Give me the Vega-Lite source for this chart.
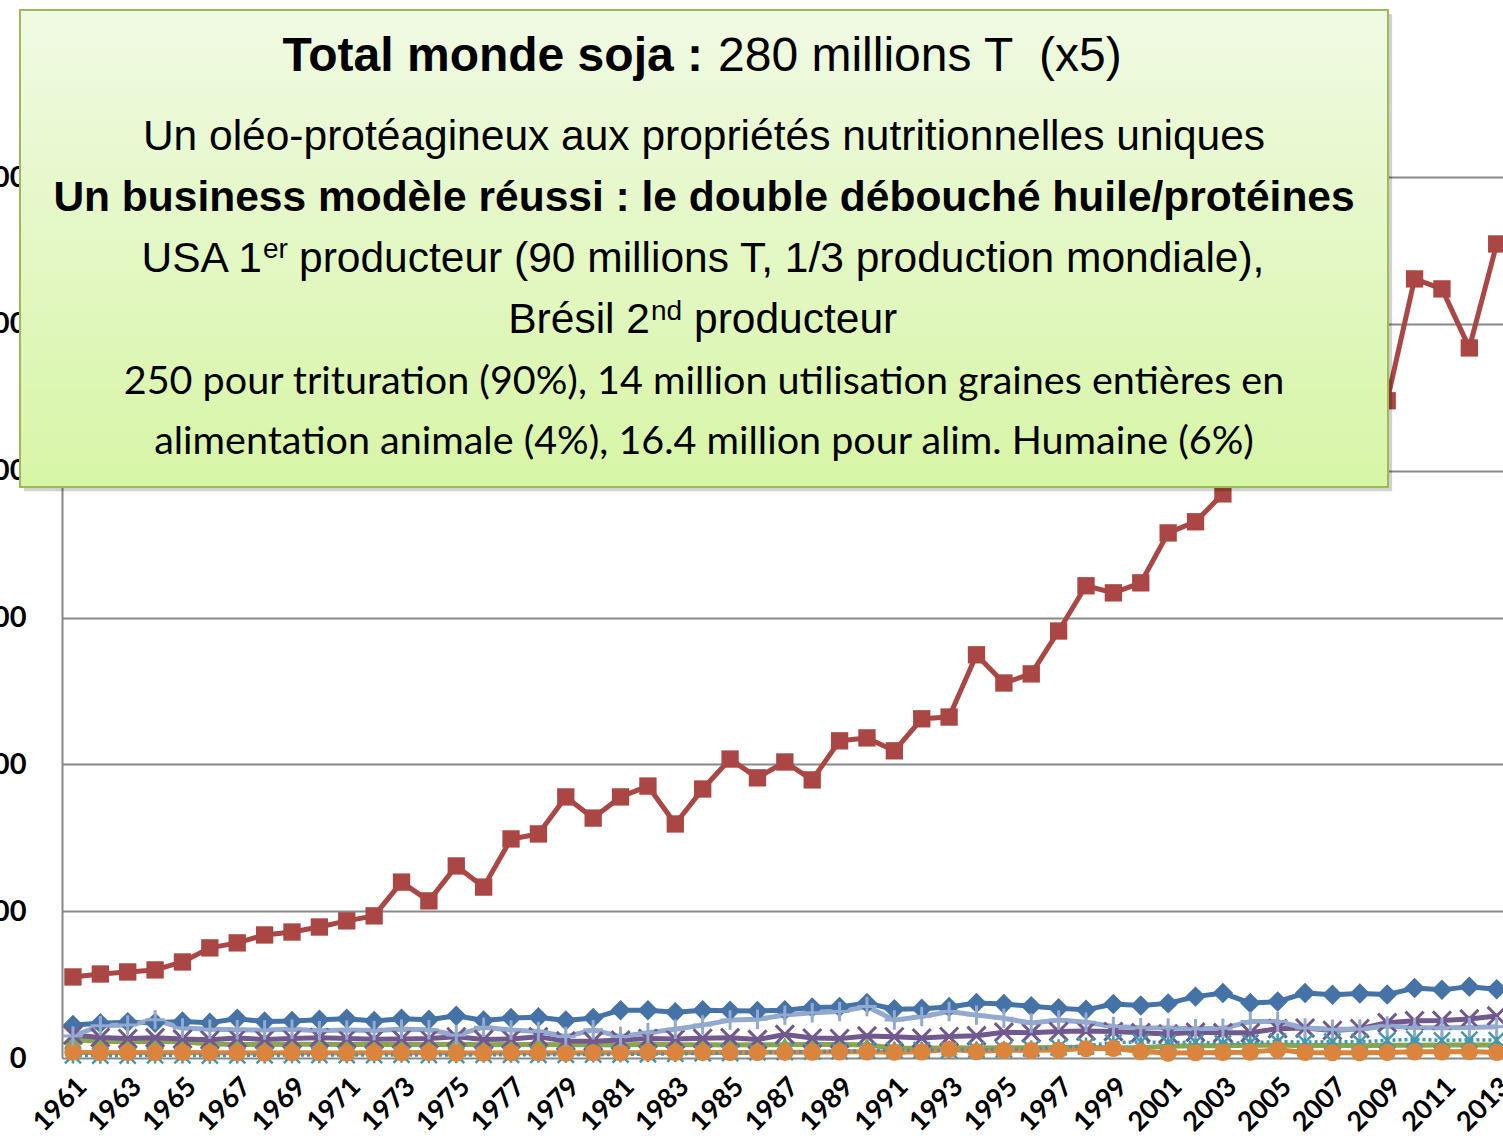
{
  "$schema": "https://vega.github.io/schema/vega-lite/v6.json",
  "autosize": {"type": "none"},
  "width": 1441,
  "height": 881,
  "padding": {"left": 62, "top": 177, "right": 0, "bottom": 78},
  "background": "white",
  "config": {"view": {"stroke": null}},
  "datasets": {
    "prod": [
      {"year": 1961, "Haricots": 11.2, "Soja": 27.6, "Feves": 6.1, "PoisChiches": 7.8, "Lentilles": 0.9, "Lupins": 2.0, "PoisSecs": 7.5},
      {"year": 1962, "Haricots": 11.8, "Soja": 28.6, "Feves": 5.7, "PoisChiches": 7.0, "Lentilles": 0.8, "Lupins": 1.8, "PoisSecs": 11.0},
      {"year": 1963, "Haricots": 12.2, "Soja": 29.3, "Feves": 5.5, "PoisChiches": 6.6, "Lentilles": 0.8, "Lupins": 1.9, "PoisSecs": 11.2},
      {"year": 1964, "Haricots": 12.0, "Soja": 30.0, "Feves": 5.6, "PoisChiches": 6.9, "Lentilles": 0.9, "Lupins": 1.8, "PoisSecs": 13.0},
      {"year": 1965, "Haricots": 12.4, "Soja": 32.7, "Feves": 5.5, "PoisChiches": 6.5, "Lentilles": 0.9, "Lupins": 1.9, "PoisSecs": 10.2},
      {"year": 1966, "Haricots": 12.0, "Soja": 37.5, "Feves": 4.8, "PoisChiches": 6.2, "Lentilles": 0.8, "Lupins": 1.8, "PoisSecs": 9.8},
      {"year": 1967, "Haricots": 13.4, "Soja": 39.2, "Feves": 4.6, "PoisChiches": 6.8, "Lentilles": 0.9, "Lupins": 1.8, "PoisSecs": 9.6},
      {"year": 1968, "Haricots": 12.4, "Soja": 41.9, "Feves": 4.6, "PoisChiches": 6.3, "Lentilles": 0.9, "Lupins": 1.7, "PoisSecs": 9.5},
      {"year": 1969, "Haricots": 12.6, "Soja": 42.9, "Feves": 4.7, "PoisChiches": 6.6, "Lentilles": 1.0, "Lupins": 1.8, "PoisSecs": 9.8},
      {"year": 1970, "Haricots": 13.0, "Soja": 44.6, "Feves": 4.7, "PoisChiches": 6.9, "Lentilles": 1.0, "Lupins": 1.8, "PoisSecs": 9.3},
      {"year": 1971, "Haricots": 13.4, "Soja": 46.7, "Feves": 4.6, "PoisChiches": 6.6, "Lentilles": 1.0, "Lupins": 1.7, "PoisSecs": 9.5},
      {"year": 1972, "Haricots": 12.6, "Soja": 48.4, "Feves": 4.6, "PoisChiches": 6.4, "Lentilles": 1.0, "Lupins": 1.8, "PoisSecs": 9.4},
      {"year": 1973, "Haricots": 13.4, "Soja": 59.9, "Feves": 4.6, "PoisChiches": 6.5, "Lentilles": 1.1, "Lupins": 1.8, "PoisSecs": 9.8},
      {"year": 1974, "Haricots": 13.0, "Soja": 53.5, "Feves": 4.6, "PoisChiches": 6.6, "Lentilles": 1.0, "Lupins": 1.9, "PoisSecs": 9.6},
      {"year": 1975, "Haricots": 14.4, "Soja": 65.4, "Feves": 4.7, "PoisChiches": 7.2, "Lentilles": 1.0, "Lupins": 1.7, "PoisSecs": 7.8},
      {"year": 1976, "Haricots": 12.8, "Soja": 58.2, "Feves": 4.5, "PoisChiches": 6.3, "Lentilles": 1.1, "Lupins": 1.7, "PoisSecs": 10.5},
      {"year": 1977, "Haricots": 13.6, "Soja": 74.6, "Feves": 4.6, "PoisChiches": 6.5, "Lentilles": 1.1, "Lupins": 1.8, "PoisSecs": 9.5},
      {"year": 1978, "Haricots": 13.9, "Soja": 76.3, "Feves": 4.6, "PoisChiches": 7.2, "Lentilles": 1.1, "Lupins": 1.8, "PoisSecs": 9.0},
      {"year": 1979, "Haricots": 12.8, "Soja": 88.9, "Feves": 4.5, "PoisChiches": 5.8, "Lentilles": 1.1, "Lupins": 1.7, "PoisSecs": 7.3},
      {"year": 1980, "Haricots": 13.6, "Soja": 81.7, "Feves": 4.5, "PoisChiches": 5.7, "Lentilles": 1.2, "Lupins": 1.8, "PoisSecs": 9.6},
      {"year": 1981, "Haricots": 16.3, "Soja": 88.9, "Feves": 4.4, "PoisChiches": 6.1, "Lentilles": 1.2, "Lupins": 1.8, "PoisSecs": 7.3},
      {"year": 1982, "Haricots": 16.3, "Soja": 92.6, "Feves": 4.7, "PoisChiches": 6.6, "Lentilles": 1.3, "Lupins": 1.9, "PoisSecs": 8.6},
      {"year": 1983, "Haricots": 15.6, "Soja": 79.7, "Feves": 4.5, "PoisChiches": 6.5, "Lentilles": 1.4, "Lupins": 1.9, "PoisSecs": 9.8},
      {"year": 1984, "Haricots": 16.3, "Soja": 91.6, "Feves": 4.5, "PoisChiches": 6.7, "Lentilles": 1.6, "Lupins": 1.9, "PoisSecs": 11.2},
      {"year": 1985, "Haricots": 16.1, "Soja": 101.8, "Feves": 4.4, "PoisChiches": 6.9, "Lentilles": 1.7, "Lupins": 1.9, "PoisSecs": 12.9},
      {"year": 1986, "Haricots": 16.0, "Soja": 95.4, "Feves": 4.5, "PoisChiches": 6.3, "Lentilles": 1.9, "Lupins": 1.9, "PoisSecs": 13.2},
      {"year": 1987, "Haricots": 16.3, "Soja": 100.8, "Feves": 4.5, "PoisChiches": 8.0, "Lentilles": 2.0, "Lupins": 2.0, "PoisSecs": 14.6},
      {"year": 1988, "Haricots": 17.2, "Soja": 94.7, "Feves": 4.6, "PoisChiches": 6.8, "Lentilles": 2.2, "Lupins": 2.0, "PoisSecs": 15.4},
      {"year": 1989, "Haricots": 17.4, "Soja": 108.0, "Feves": 4.6, "PoisChiches": 6.6, "Lentilles": 2.3, "Lupins": 2.1, "PoisSecs": 15.8},
      {"year": 1990, "Haricots": 18.7, "Soja": 109.0, "Feves": 4.4, "PoisChiches": 7.5, "Lentilles": 2.5, "Lupins": 2.1, "PoisSecs": 17.5},
      {"year": 1991, "Haricots": 16.6, "Soja": 104.6, "Feves": 3.4, "PoisChiches": 7.2, "Lentilles": 2.6, "Lupins": 2.0, "PoisSecs": 12.9},
      {"year": 1992, "Haricots": 16.8, "Soja": 115.5, "Feves": 3.3, "PoisChiches": 6.8, "Lentilles": 2.7, "Lupins": 2.1, "PoisSecs": 14.1},
      {"year": 1993, "Haricots": 17.4, "Soja": 116.1, "Feves": 3.5, "PoisChiches": 7.3, "Lentilles": 2.6, "Lupins": 3.0, "PoisSecs": 15.8},
      {"year": 1994, "Haricots": 18.7, "Soja": 137.3, "Feves": 3.4, "PoisChiches": 7.6, "Lentilles": 2.8, "Lupins": 2.2, "PoisSecs": 14.6},
      {"year": 1995, "Haricots": 18.4, "Soja": 127.7, "Feves": 3.5, "PoisChiches": 8.8, "Lentilles": 2.9, "Lupins": 2.6, "PoisSecs": 13.5},
      {"year": 1996, "Haricots": 17.6, "Soja": 130.8, "Feves": 3.5, "PoisChiches": 8.6, "Lentilles": 3.2, "Lupins": 2.6, "PoisSecs": 11.9},
      {"year": 1997, "Haricots": 16.9, "Soja": 145.4, "Feves": 3.6, "PoisChiches": 9.0, "Lentilles": 3.6, "Lupins": 2.7, "PoisSecs": 12.9},
      {"year": 1998, "Haricots": 16.4, "Soja": 160.8, "Feves": 3.6, "PoisChiches": 9.2, "Lentilles": 4.2, "Lupins": 3.2, "PoisSecs": 12.2},
      {"year": 1999, "Haricots": 18.4, "Soja": 158.4, "Feves": 3.5, "PoisChiches": 9.0, "Lentilles": 5.2, "Lupins": 3.3, "PoisSecs": 10.7},
      {"year": 2000, "Haricots": 17.9, "Soja": 161.8, "Feves": 3.5, "PoisChiches": 8.6, "Lentilles": 5.5, "Lupins": 2.2, "PoisSecs": 10.3},
      {"year": 2001, "Haricots": 18.6, "Soja": 178.8, "Feves": 4.0, "PoisChiches": 8.2, "Lentilles": 5.2, "Lupins": 1.7, "PoisSecs": 10.2},
      {"year": 2002, "Haricots": 20.9, "Soja": 182.6, "Feves": 4.2, "PoisChiches": 8.8, "Lentilles": 5.4, "Lupins": 1.8, "PoisSecs": 10.0},
      {"year": 2003, "Haricots": 22.1, "Soja": 192.1, "Feves": 4.2, "PoisChiches": 8.6, "Lentilles": 5.0, "Lupins": 1.9, "PoisSecs": 10.1},
      {"year": 2004, "Haricots": 18.7, "Soja": 205.5, "Feves": 4.3, "PoisChiches": 8.6, "Lentilles": 5.2, "Lupins": 2.0, "PoisSecs": 12.4},
      {"year": 2005, "Haricots": 19.2, "Soja": 214.5, "Feves": 4.4, "PoisChiches": 10.0, "Lentilles": 5.6, "Lupins": 2.8, "PoisSecs": 12.4},
      {"year": 2006, "Haricots": 22.1, "Soja": 221.8, "Feves": 4.2, "PoisChiches": 10.2, "Lentilles": 5.4, "Lupins": 1.9, "PoisSecs": 10.2},
      {"year": 2007, "Haricots": 21.5, "Soja": 219.5, "Feves": 4.3, "PoisChiches": 9.4, "Lentilles": 5.6, "Lupins": 1.8, "PoisSecs": 9.8},
      {"year": 2008, "Haricots": 22.0, "Soja": 230.9, "Feves": 4.2, "PoisChiches": 10.0, "Lentilles": 5.5, "Lupins": 1.8, "PoisSecs": 9.8},
      {"year": 2009, "Haricots": 21.6, "Soja": 223.8, "Feves": 4.3, "PoisChiches": 12.0, "Lentilles": 6.0, "Lupins": 1.9, "PoisSecs": 10.9},
      {"year": 2010, "Haricots": 23.8, "Soja": 265.3, "Feves": 4.3, "PoisChiches": 12.7, "Lentilles": 6.4, "Lupins": 2.1, "PoisSecs": 10.4},
      {"year": 2011, "Haricots": 23.2, "Soja": 261.9, "Feves": 4.4, "PoisChiches": 12.8, "Lentilles": 6.0, "Lupins": 2.1, "PoisSecs": 10.3},
      {"year": 2012, "Haricots": 24.3, "Soja": 241.8, "Feves": 4.4, "PoisChiches": 13.3, "Lentilles": 6.2, "Lupins": 2.2, "PoisSecs": 10.4},
      {"year": 2013, "Haricots": 23.4, "Soja": 277.2, "Feves": 4.4, "PoisChiches": 14.3, "Lentilles": 6.1, "Lupins": 1.9, "PoisSecs": 10.6}
    ]
  },
  "data": {"name": "prod"},
  "layer": [
    {
      "transform": [
        {"fold": ["Haricots", "Soja", "Feves", "PoisChiches", "Lupins", "PoisSecs"], "as": ["serie", "valeur"]}
      ],
      "mark": {"type": "line", "strokeWidth": 5, "strokeJoin": "round"},
      "encoding": {
        "x": {
          "field": "year", "type": "quantitative",
          "scale": {"domain": [1960.6, 2013.23], "nice": false, "zero": false},
          "axis": {
            "title": null, "grid": false, "domain": false, "ticks": false,
            "values": [1961, 1963, 1965, 1967, 1969, 1971, 1973, 1975, 1977, 1979, 1981, 1983, 1985, 1987, 1989, 1991, 1993, 1995, 1997, 1999, 2001, 2003, 2005, 2007, 2009, 2011, 2013],
            "format": "d", "labelAngle": -45, "labelAlign": "right", "labelBaseline": "top",
            "labelFont": "Lato", "labelFontWeight": "bold", "labelFontSize": 27, "labelColor": "#000000",
            "labelPadding": 15, "labelOverlap": false, "labelBound": false, "labelFlush": false
          }
        },
        "y": {
          "field": "valeur", "type": "quantitative",
          "scale": {"domain": [0, 300], "nice": false, "zero": true},
          "axis": {
            "title": null, "grid": true, "gridColor": "#888888", "gridWidth": 2,
            "domain": true, "domainColor": "#888888", "domainWidth": 2, "ticks": false,
            "values": [0, 50, 100, 150, 200, 250, 300],
            "labelExpr": "datum.value == 0 ? '0' : format(datum.value * 1000000, 'd')",
            "labelFont": "Lato", "labelFontWeight": "bold", "labelFontSize": 29, "labelColor": "#000000",
            "labelPadding": 36, "labelOverlap": false, "labelFlush": false
          }
        },
        "color": {
          "field": "serie", "type": "nominal", "legend": null,
          "scale": {
            "domain": ["Haricots", "Soja", "Feves", "PoisChiches", "Lentilles", "Lupins", "PoisSecs"],
            "range": ["#4572A7", "#AA4643", "#89A54E", "#71588F", "#4198AF", "#DB843D", "#93A9CF"]
          }
        },
        "detail": {"field": "serie", "type": "nominal"}
      }
    },
    {
      "transform": [{"fold": ["Lentilles"], "as": ["serie", "valeur"]}],
      "mark": {"type": "line", "strokeWidth": 3.5, "strokeDash": [3, 3]},
      "encoding": {
        "x": {"field": "year", "type": "quantitative"},
        "y": {"field": "valeur", "type": "quantitative"},
        "color": {"field": "serie", "type": "nominal", "legend": null}
      }
    },
    {
      "transform": [{"fold": ["Haricots"], "as": ["serie", "valeur"]}],
      "mark": {"type": "point", "shape": "diamond", "filled": true, "opacity": 1, "size": 420},
      "encoding": {
        "x": {"field": "year", "type": "quantitative"},
        "y": {"field": "valeur", "type": "quantitative"},
        "color": {"field": "serie", "type": "nominal", "legend": null}
      }
    },
    {
      "transform": [{"fold": ["Soja"], "as": ["serie", "valeur"]}],
      "mark": {"type": "point", "shape": "square", "filled": true, "opacity": 1, "size": 300},
      "encoding": {
        "x": {"field": "year", "type": "quantitative"},
        "y": {"field": "valeur", "type": "quantitative"},
        "color": {"field": "serie", "type": "nominal", "legend": null}
      }
    },
    {
      "transform": [{"fold": ["Feves"], "as": ["serie", "valeur"]}],
      "mark": {"type": "point", "shape": "triangle-up", "filled": true, "opacity": 1, "size": 300},
      "encoding": {
        "x": {"field": "year", "type": "quantitative"},
        "y": {"field": "valeur", "type": "quantitative"},
        "color": {"field": "serie", "type": "nominal", "legend": null}
      }
    },
    {
      "transform": [{"fold": ["PoisChiches"], "as": ["serie", "valeur"]}],
      "mark": {"type": "point", "shape": "M-1,-1L1,1M-1,1L1,-1", "filled": false, "opacity": 1, "size": 330, "strokeWidth": 3},
      "encoding": {
        "x": {"field": "year", "type": "quantitative"},
        "y": {"field": "valeur", "type": "quantitative"},
        "color": {"field": "serie", "type": "nominal", "legend": null}
      }
    },
    {
      "transform": [{"fold": ["Lentilles"], "as": ["serie", "valeur"]}],
      "mark": {"type": "point", "shape": "M-1,-1L1,1M-1,1L1,-1M0,-1L0,1", "filled": false, "opacity": 1, "size": 260, "strokeWidth": 2.5},
      "encoding": {
        "x": {"field": "year", "type": "quantitative"},
        "y": {"field": "valeur", "type": "quantitative"},
        "color": {"field": "serie", "type": "nominal", "legend": null}
      }
    },
    {
      "transform": [{"fold": ["Lupins"], "as": ["serie", "valeur"]}],
      "mark": {"type": "point", "shape": "circle", "filled": true, "opacity": 1, "size": 300},
      "encoding": {
        "x": {"field": "year", "type": "quantitative"},
        "y": {"field": "valeur", "type": "quantitative"},
        "color": {"field": "serie", "type": "nominal", "legend": null}
      }
    },
    {
      "transform": [{"fold": ["PoisSecs"], "as": ["serie", "valeur"]}],
      "mark": {"type": "point", "shape": "M0,-1L0,1M-1,0L1,0", "filled": false, "opacity": 1, "size": 380, "strokeWidth": 3},
      "encoding": {
        "x": {"field": "year", "type": "quantitative"},
        "y": {"field": "valeur", "type": "quantitative"},
        "color": {"field": "serie", "type": "nominal", "legend": null}
      }
    },
    {
      "data": {"values": [{}]},
      "mark": {"type": "rect", "fill": "#000000", "opacity": 0.18},
      "encoding": {
        "x": {"datum": 1959.21, "type": "quantitative"},
        "x2": {"datum": 2009.18},
        "y": {"datum": 355.5, "type": "quantitative"},
        "y2": {"datum": 193.0}
      }
    },
    {
      "data": {"values": [{}]},
      "mark": {
        "type": "rect", "stroke": "#9BBB59", "strokeWidth": 2,
        "fill": {"gradient": "linear", "x1": 0, "y1": 0, "x2": 0, "y2": 1,
          "stops": [{"offset": 0, "color": "#F0FAE3"}, {"offset": 1, "color": "#D7F5A6"}]}
      },
      "encoding": {
        "x": {"datum": 1959.066, "type": "quantitative"},
        "x2": {"datum": 2009.03},
        "y": {"datum": 356.9, "type": "quantitative"},
        "y2": {"datum": 194.44}
      }
    },
    {
      "data": {"values": [{}]},
      "mark": {"type": "text", "text": "Total monde soja :", "font": "Liberation Sans", "fontWeight": "bold", "fontSize": 48, "align": "right", "baseline": "alphabetic", "color": "#000000"},
      "encoding": {
        "x": {"datum": 1984.011, "type": "quantitative"},
        "y": {"datum": 336.1, "type": "quantitative"}
      }
    },
    {
      "data": {"values": [{}]},
      "mark": {"type": "text", "text": "280 millions T \u00a0(x5)", "font": "Liberation Sans", "fontSize": 48, "align": "left", "baseline": "alphabetic", "color": "#000000"},
      "encoding": {
        "x": {"datum": 1984.559, "type": "quantitative"},
        "y": {"datum": 336.1, "type": "quantitative"}
      }
    },
    {
      "data": {"values": [{}]},
      "mark": {"type": "text", "text": "Un oléo-protéagineux aux propriétés nutritionnelles uniques", "font": "Liberation Sans", "fontSize": 42.5, "align": "center", "baseline": "alphabetic", "color": "#000000"},
      "encoding": {
        "x": {"datum": 1984.048, "type": "quantitative"},
        "y": {"datum": 309.2, "type": "quantitative"}
      }
    },
    {
      "data": {"values": [{}]},
      "mark": {"type": "text", "text": "Un business modèle réussi : le double débouché huile/protéines", "font": "Liberation Sans", "fontWeight": "bold", "fontSize": 42.5, "align": "center", "baseline": "alphabetic", "color": "#000000"},
      "encoding": {
        "x": {"datum": 1984.048, "type": "quantitative"},
        "y": {"datum": 288.4, "type": "quantitative"}
      }
    },
    {
      "data": {"values": [{}]},
      "mark": {"type": "text", "text": "USA 1", "font": "Liberation Sans", "fontSize": 42.5, "align": "right", "baseline": "alphabetic", "color": "#000000"},
      "encoding": {
        "x": {"datum": 1967.905, "type": "quantitative"},
        "y": {"datum": 267.65, "type": "quantitative"}
      }
    },
    {
      "data": {"values": [{}]},
      "mark": {"type": "text", "text": "er", "font": "Liberation Sans", "fontSize": 28, "align": "left", "baseline": "alphabetic", "color": "#000000"},
      "encoding": {
        "x": {"datum": 1967.941, "type": "quantitative"},
        "y": {"datum": 272.4, "type": "quantitative"}
      }
    },
    {
      "data": {"values": [{}]},
      "mark": {"type": "text", "text": "producteur (90 millions T, 1/3 production mondiale),", "font": "Liberation Sans", "fontSize": 42.5, "align": "left", "baseline": "alphabetic", "color": "#000000"},
      "encoding": {
        "x": {"datum": 1969.256, "type": "quantitative"},
        "y": {"datum": 267.65, "type": "quantitative"}
      }
    },
    {
      "data": {"values": [{}]},
      "mark": {"type": "text", "text": "Brésil 2", "font": "Liberation Sans", "fontSize": 42.5, "align": "right", "baseline": "alphabetic", "color": "#000000"},
      "encoding": {
        "x": {"datum": 1982.075, "type": "quantitative"},
        "y": {"datum": 246.9, "type": "quantitative"}
      }
    },
    {
      "data": {"values": [{}]},
      "mark": {"type": "text", "text": "nd", "font": "Liberation Sans", "fontSize": 28, "align": "left", "baseline": "alphabetic", "color": "#000000"},
      "encoding": {
        "x": {"datum": 1982.112, "type": "quantitative"},
        "y": {"datum": 251.3, "type": "quantitative"}
      }
    },
    {
      "data": {"values": [{}]},
      "mark": {"type": "text", "text": "producteur", "font": "Liberation Sans", "fontSize": 42.5, "align": "left", "baseline": "alphabetic", "color": "#000000"},
      "encoding": {
        "x": {"datum": 1983.683, "type": "quantitative"},
        "y": {"datum": 246.9, "type": "quantitative"}
      }
    },
    {
      "data": {"values": [{}]},
      "mark": {"type": "text", "text": "250 pour trituration (90%), 14 million utilisation graines entières en", "font": "Lato", "fontSize": 39.5, "align": "center", "baseline": "alphabetic", "color": "#000000"},
      "encoding": {
        "x": {"datum": 1984.048, "type": "quantitative"},
        "y": {"datum": 226.1, "type": "quantitative"}
      }
    },
    {
      "data": {"values": [{}]},
      "mark": {"type": "text", "text": "alimentation animale (4%), 16.4 million pour alim. Humaine (6%)", "font": "Lato", "fontSize": 39.5, "align": "center", "baseline": "alphabetic", "color": "#000000"},
      "encoding": {
        "x": {"datum": 1984.048, "type": "quantitative"},
        "y": {"datum": 205.7, "type": "quantitative"}
      }
    }
  ]
}
